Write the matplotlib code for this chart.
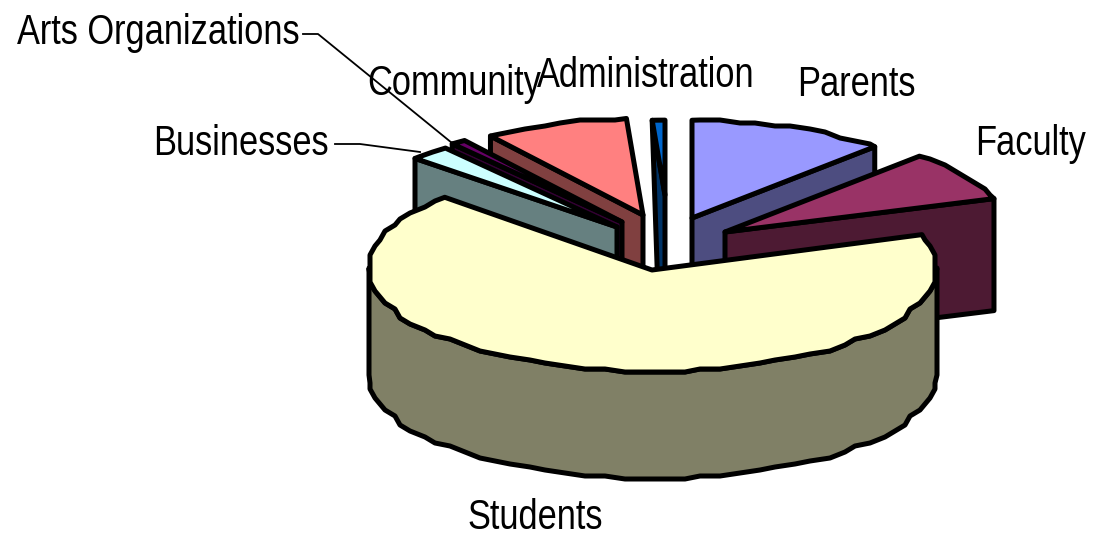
import numpy as np
import matplotlib
matplotlib.use('Agg')
import matplotlib.pyplot as plt
from matplotlib import font_manager
from matplotlib.patches import Polygon
from fontTools.ttLib import TTFont

# data, share of the pie in percent
labels = ['Parents', 'Faculty', 'Students', 'Businesses', 'Arts Organizations', 'Community', 'Administration']
shares = [12.0, 7.8, 67.1, 2.4, 0.9, 8.8, 1.0]

# colours
top_colors = ['#9999FF', '#993366', '#FFFFCC', '#CCFFFF', '#660066', '#FF8080', '#0066CC']
side_colors = ['#4D4D80', '#4D1A33', '#808066', '#668080', '#330033', '#804040', '#003366']

# layout in pixels: centre of the pie, ellipse radii and how deep the pie is
CX, CY = 653, 268
RX, RY = 284, 104
DEPTH = 107
apex_x = [692, 725, 652, 617, 622, 643, 665]
apex_y = [218, 232, 270, 227, 222, 215, 195]
radius = [0.94, 1.0, 1.0, 0.97, 0.96, 0.93, 0.72]
# which radial edge shows a face: 'end' is the clockwise one, 'start' the other
face_edge = ['end', 'end', None, 'start', 'start', 'start', 'start']
face_drop = [DEPTH, 112, DEPTH, DEPTH, DEPTH, DEPTH, 148]
face_lean = [0, 0, 0, 0, 0, 0, 5]
draw_order = [0, 1, 6, 5, 4, 3, 2]


# no narrow Arial-like family is installed, so squeeze Liberation Sans into one
def make_narrow_font(path, squeeze):
    font = TTFont(font_manager.findfont('Liberation Sans'))
    glyf = font['glyf']
    for name in font.getGlyphOrder():
        glyph = glyf[name]
        if glyph.isComposite():
            for comp in glyph.components:
                comp.x = int(comp.x * squeeze)
        elif glyph.numberOfContours > 0:
            glyph.coordinates.scale((squeeze, 1))
            glyph.recalcBounds(glyf)
        adv, lsb = font['hmtx'][name]
        font['hmtx'][name] = (int(adv * squeeze), int(lsb * squeeze))
    for rec in font['name'].names:
        if rec.nameID in (1, 4, 16):
            rec.string = 'Squeezed Sans'
    font.save(path)
    font_manager.fontManager.addfont(path)


make_narrow_font('squeezed.ttf', 0.80)
plt.rcParams['font.family'] = ['Squeezed Sans', 'Liberation Sans']

fig = plt.figure(figsize=(10.93, 5.37), dpi=100)
ax = fig.add_axes([0, 0, 1, 1])
ax.set_xlim(0, 1093)
ax.set_ylim(537, 0)
ax.axis('off')

LW = 3.6
style = dict(edgecolor='black', linewidth=LW, joinstyle='round')


def arc(x0, y0, r, a0, a1):
    # sample on fixed angles so the same stretch always gets the same steps
    lo, hi = min(a0, a1), max(a0, a1)
    inner = np.arange(np.ceil(lo / 4) * 4, hi, 4.0)
    deg = np.concatenate([[lo], inner[inner > lo], [hi]])
    if a0 > a1:
        deg = deg[::-1]
    t = np.radians(deg)
    x = x0 + r * RX * np.cos(t)
    y = y0 - r * RY * np.sin(t)
    # the original has a stepped outline
    if hi - lo > 10:
        x[1:-1] = np.round(x[1:-1] / 5) * 5
        y[1:-1] = np.round(y[1:-1] / 3) * 3
    return np.column_stack([x, y])


# start and end angle of each slice, going clockwise from 12 o'clock
fractions = np.array(shares) / sum(shares) * 360
ends = 90 - np.cumsum(fractions)
starts = ends + fractions

for i in draw_order:
    apex = np.array([apex_x[i], apex_y[i]])
    if i == 2:
        # students sit in front, so the outer wall shows
        wall = arc(CX, CY, radius[i], -180, 0)
        low = wall + [0, DEPTH]
        ax.add_patch(Polygon(np.vstack([wall, low[::-1]]), facecolor=side_colors[i], **style))
        pts = arc(CX, CY, radius[i], starts[i], ends[i])
        ax.add_patch(Polygon(np.vstack([apex, pts]), facecolor=top_colors[i], **style))
        continue
    pts = arc(apex_x[i], apex_y[i], radius[i], starts[i], ends[i])
    edge = pts[-1] if face_edge[i] == 'end' else pts[0]
    face = [edge, apex, apex + [0, face_drop[i]], edge + [face_lean[i], face_drop[i]]]
    ax.add_patch(Polygon(face, facecolor=side_colors[i], **style))
    ax.add_patch(Polygon(np.vstack([apex, pts]), facecolor=top_colors[i], **style))

# leader lines
ax.plot([303, 318, 452], [34, 34, 143], color='black', lw=1.3)
ax.plot([335, 360, 420], [144, 144, 152], color='black', lw=1.3)

FS = 31
text_pos = {
    'Parents': (856, 85), 'Faculty': (1031, 144), 'Students': (535, 518),
    'Businesses': (241, 144), 'Arts Organizations': (158, 33),
    'Community': (454, 84), 'Administration': (646, 76),
}
for name in labels:
    x, y = text_pos[name]
    ax.text(x, y, name, fontsize=FS, ha='center', va='center', color='black')

fig.savefig('out.png', dpi=100)
